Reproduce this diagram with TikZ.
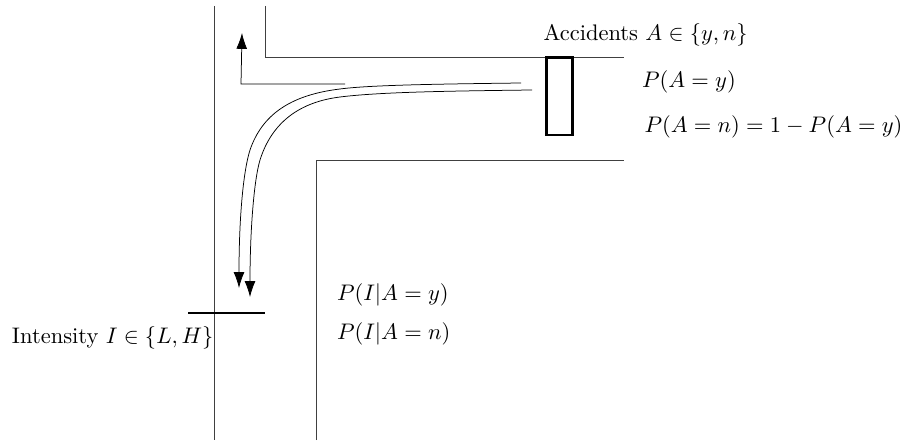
\documentclass[tikz,border=0pt]{standalone}
\usetikzlibrary{arrows.meta}
\tikzset{
  road/.style={line width=0.55pt,draw=black!75},
  flow/.style={line width=0.45pt,draw=black},
  flowarrow/.style={flow,-{Latex[length=9.5pt,width=6.5pt]}},
  stopline/.style={line width=1.6pt,draw=black},
  label/.style={anchor=base west,inner sep=0pt,outer sep=0pt,scale=1.35}
}
\begin{document}
\begin{tikzpicture}[x=0.6pt,y=-0.6pt]
\useasboundingbox (0,0) rectangle (906,441);
% road edges
\coordinate (la) at (214,6); \coordinate (lb) at (214,440);
\coordinate (ta) at (265,6); \coordinate (tb) at (265,57.5); \coordinate (tc) at (624,57.5);
\coordinate (ba) at (316.5,440); \coordinate (bb) at (316.5,160); \coordinate (bc) at (624,160);
\draw[road] (la) -- (lb);
\draw[road] (ta) -- (tb) -- (tc);
\draw[road] (ba) -- (bb) -- (bc);
% turning arrow
\coordinate (ra) at (345,84); \coordinate (rb) at (241,84); \coordinate (rc) at (242,33);
\draw[flowarrow] (ra) -- (rb) -- (rc);
% curved flow
\coordinate (oa) at (521,83); \coordinate (om) at (340,89); \coordinate (on) at (250,150); \coordinate (ob) at (239,288);
\coordinate (ia) at (532,90); \coordinate (im) at (340,97); \coordinate (in) at (260,160); \coordinate (ib) at (250,297);
\draw[flowarrow] (oa) .. controls (440,84) and (370,85) .. (om) .. controls (290,95) and (262,115) .. (on) .. controls (243,172) and (239,220) .. (ob);
\draw[flowarrow] (ia) .. controls (450,91) and (380,92) .. (im) .. controls (300,102) and (272,122) .. (in) .. controls (254,180) and (250,230) .. (ib);
% counting sites
\coordinate (sa) at (188,313); \coordinate (sb) at (265,313);
\draw[stopline] (sa) -- (sb);
\node[draw=black,line width=1.6pt,minimum width=15.6pt,minimum height=46.4pt,inner sep=0pt] (box) at (559.5,96.3) {};
% labels
\node[label] (acc) at (543.5,41) {Accidents $A\in\{y,n\}$};
\node[label] (py) at (642,88) {$P(A=y)$};
\node[label] (pn) at (644.5,133) {$P(A=n)=1-P(A=y)$};
\node[label] (iy) at (337,300) {$P(I|A=y)$};
\node[label] (in2) at (337,339) {$P(I|A=n)$};
\node[label] (int) at (12,343.5) {Intensity $I\in\{L,H\}$};
\end{tikzpicture}
\end{document}
